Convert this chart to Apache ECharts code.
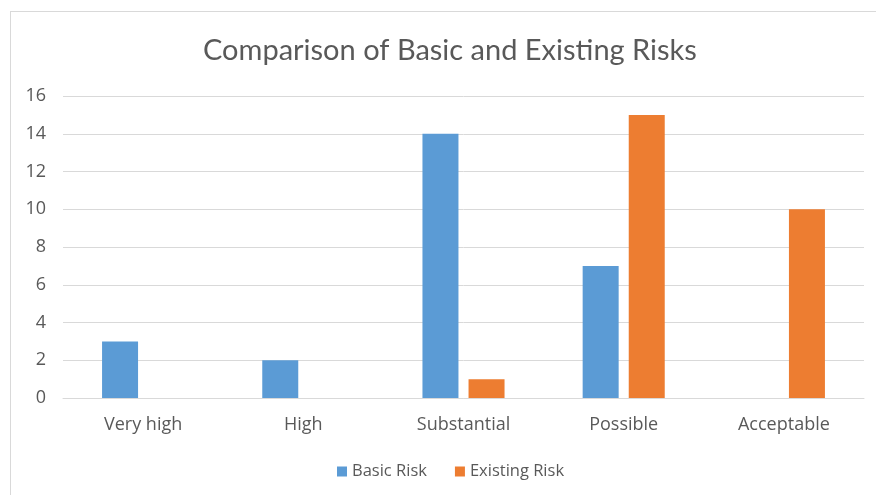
<!DOCTYPE html>
<html>
<head>
<meta charset="utf-8">
<script src="https://cdn.jsdelivr.net/npm/echarts@6/dist/echarts.min.js"></script>
<style>
  html, body { margin: 0; padding: 0; background: #ffffff; }
  #frame { position: absolute; left: 10px; top: 11px; width: 900px; height: 520px; border: 1px solid #d9d9d9; box-sizing: border-box; }
  #chart { position: absolute; left: 0; top: 0; width: 876px; height: 495px; }
</style>
</head>
<body>
<div id="frame"></div>
<div id="chart"></div>
<script>
// Risk levels and counts per level
const categories = ['Very high', 'High', 'Substantial', 'Possible', 'Acceptable'];
const basicRisk = [3, 2, 14, 7, 0];
const existingRisk = [0, 0, 1, 15, 10];
const yTicks = { min: 0, max: 16, interval: 2 };

const chart = echarts.init(document.getElementById('chart'), null, { renderer: 'canvas' });
const textColor = '#595959';
const titleFont = 'Lato, "Open Sans", sans-serif';
const labelFont = '"Open Sans", "Noto Sans", sans-serif';

chart.setOption({
  animation: false,
  backgroundColor: 'transparent',
  title: {
    text: 'Comparison of Basic and Existing Risks',
    left: 198,
    top: 31,
    textStyle: { color: textColor, fontSize: 29, fontWeight: 'normal', fontFamily: titleFont }
  },
  legend: {
    bottom: 10,
    left: 332,
    itemWidth: 10,
    itemHeight: 10,
    itemGap: 28,
    icon: 'rect',
    textStyle: { color: textColor, fontSize: 16.5, fontFamily: labelFont }
  },
  grid: { left: 63, right: 12, top: 96, bottom: 97, containLabel: false },
  xAxis: {
    type: 'category',
    data: categories,
    axisLine: { lineStyle: { color: '#d9d9d9', width: 1 } },
    axisTick: { show: false },
    axisLabel: { color: textColor, fontSize: 18, fontFamily: labelFont, margin: 18 }
  },
  yAxis: {
    type: 'value',
    min: yTicks.min,
    max: yTicks.max,
    interval: yTicks.interval,
    axisLine: { show: false },
    axisTick: { show: false },
    axisLabel: { color: textColor, fontSize: 18, fontFamily: labelFont, margin: 17 },
    splitLine: { lineStyle: { color: '#d9d9d9', width: 1 } }
  },
  series: [
    {
      name: 'Basic Risk',
      type: 'bar',
      data: basicRisk,
      barWidth: 36,
      barGap: '28%',
      itemStyle: { color: '#5b9bd5' }
    },
    {
      name: 'Existing Risk',
      type: 'bar',
      data: existingRisk,
      barWidth: 36,
      barGap: '28%',
      itemStyle: { color: '#ed7d31' }
    }
  ]
});
</script>
</body>
</html>
